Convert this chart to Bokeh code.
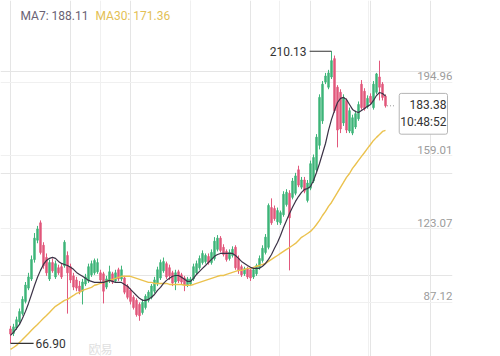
from bokeh.plotting import figure
from bokeh.models import Range1d, FixedTicker, Label, ColumnDataSource, Grid
from bokeh.embed import file_html
from bokeh.resources import INLINE

# ---- data ----
opens = [74.0, 71.8, 74.5, 77.5, 81.5, 87.5, 94.0, 98.5, 108.0, 117.5,
         126.0, 115.0, 109.0, 98.5, 106.5, 99.5, 104.0, 104.5, 105.0, 110.0,
         104.5, 100.0, 98.0, 95.0, 92.5, 96.0, 97.5, 100.5, 101.5, 102.0,
         101.5, 101.0, 94.5, 97.5, 101.0, 97.5, 103.0, 98.5, 99.0, 95.0,
         93.0, 89.5, 88.0, 86.0, 82.0, 84.5, 88.0, 89.5, 92.5, 96.0,
         99.0, 102.5, 106.0, 104.0, 101.5, 97.0, 102.0, 100.5, 99.0, 95.5,
         96.0, 98.5, 101.5, 104.0, 106.5, 107.0, 109.5, 106.5, 108.5, 113.0,
         118.5, 114.0, 112.0, 108.5, 110.0, 114.0, 108.5, 104.5, 101.0, 103.5,
         103.0, 99.5, 101.0, 104.0, 107.5, 111.5, 114.0, 133.5, 133.0, 126.5,
         126.0, 130.0, 135.0, 140.5, 138.5, 140.5, 152.0, 143.5, 147.0, 137.0,
         143.0, 146.5, 152.0, 164.0, 176.0, 195.0, 192.5, 197.5, 206.5, 192.5,
         190.0, 175.0, 186.0, 171.0, 170.0, 173.0, 177.0, 194.0, 190.5, 183.0,
         188.0, 182.5, 190.0, 197.5, 194.0, 188.0]
highs = [75.5, 76.5, 80.0, 84.0, 90.0, 97.0, 101.5, 110.0, 121.0, 124.5,
         127.2, 116.5, 111.0, 108.0, 108.5, 107.5, 105.5, 106.0, 117.5, 112.0,
         106.0, 101.5, 99.5, 97.5, 98.5, 101.0, 106.0, 107.5, 108.5, 108.5,
         103.0, 102.0, 100.0, 105.0, 102.0, 103.0, 104.0, 105.0, 100.0, 96.0,
         94.0, 90.5, 89.0, 87.0, 88.5, 91.0, 93.0, 96.0, 99.5, 104.5,
         108.0, 109.0, 107.0, 105.5, 102.5, 103.0, 103.0, 101.5, 100.0, 99.5,
         99.5, 106.0, 107.5, 110.0, 112.5, 111.0, 111.0, 113.0, 119.0, 120.0,
         119.5, 115.5, 113.0, 113.0, 114.5, 115.0, 110.0, 105.5, 104.5, 104.5,
         104.0, 104.0, 106.0, 110.0, 115.0, 120.5, 135.5, 138.0, 134.5, 133.5,
         132.0, 141.5, 142.5, 142.0, 148.0, 150.5, 154.0, 148.5, 148.5, 147.0,
         156.5, 159.5, 169.5, 189.0, 195.5, 199.5, 201.0, 210.13, 208.0, 193.5,
         191.5, 189.0, 187.0, 182.5, 179.0, 181.0, 185.5, 196.0, 192.0, 188.5,
         189.5, 195.5, 199.5, 205.5, 195.0, 189.0]
lows = [66.90, 70.5, 73.5, 76.5, 80.5, 86.5, 93.0, 97.5, 106.5, 116.0,
        110.5, 103.5, 100.0, 97.5, 101.5, 98.5, 100.5, 98.5, 104.0, 81.5,
        96.5, 93.0, 92.5, 91.0, 86.0, 95.0, 96.5, 99.5, 100.5, 101.0,
        97.0, 86.5, 93.5, 96.5, 96.0, 96.5, 97.5, 97.5, 91.0, 88.5,
        86.0, 83.5, 80.0, 78.0, 81.0, 83.5, 87.0, 88.5, 91.5, 95.0,
        98.0, 101.5, 98.5, 98.0, 95.0, 93.0, 96.5, 96.0, 92.5, 94.5,
        95.0, 97.5, 100.5, 103.0, 105.5, 106.0, 105.5, 105.5, 107.5, 112.0,
        111.5, 109.5, 107.0, 107.5, 109.0, 103.0, 101.0, 99.5, 100.0, 98.5,
        97.5, 98.5, 100.0, 103.0, 106.5, 110.5, 113.0, 125.0, 127.0, 125.0,
        125.0, 129.0, 134.0, 102.7, 137.5, 139.5, 143.5, 142.5, 140.5, 136.0,
        142.0, 145.5, 151.0, 162.0, 174.5, 194.0, 191.5, 196.5, 180.0, 163.0,
        170.0, 173.5, 170.0, 170.0, 169.0, 172.0, 176.0, 181.5, 181.0, 182.0,
        184.0, 181.5, 189.0, 186.0, 186.0, 182.5]
closes = [71.5, 75.0, 78.5, 82.5, 88.5, 95.5, 99.5, 108.0, 118.5, 123.0,
          111.5, 105.0, 101.5, 106.5, 102.5, 106.0, 101.5, 99.5, 116.5, 101.5,
          98.0, 94.5, 94.0, 92.5, 97.0, 99.5, 104.5, 106.0, 107.5, 106.5,
          98.0, 92.5, 98.5, 102.0, 97.0, 101.5, 98.5, 103.0, 92.0, 89.5,
          87.5, 84.5, 81.0, 80.5, 87.0, 90.0, 92.0, 95.0, 98.0, 103.0,
          106.5, 107.0, 99.5, 100.0, 96.5, 101.5, 97.5, 97.0, 95.5, 98.5,
          98.5, 104.5, 106.0, 108.5, 111.0, 110.0, 106.5, 111.5, 117.0, 118.5,
          112.5, 110.5, 108.0, 111.5, 113.0, 104.0, 102.5, 100.5, 103.5, 99.5,
          99.0, 103.0, 105.0, 108.5, 113.5, 119.0, 134.5, 126.0, 128.0, 132.0,
          131.0, 140.0, 141.0, 128.5, 146.5, 149.0, 144.5, 147.0, 141.5, 145.5,
          155.0, 158.0, 168.0, 187.5, 194.0, 198.0, 199.5, 205.5, 181.0, 171.5,
          172.0, 187.5, 171.5, 181.0, 177.5, 179.5, 184.0, 182.5, 182.0, 187.0,
          185.0, 194.0, 199.0, 192.5, 187.5, 183.38]
ma7 = [70.8, 72.3, 74.3, 76.2, 79.2, 82.6, 86.5, 90.9, 95.3, 99.3,
       102.7, 105.6, 107.6, 108.6, 109.1, 108.6, 107.1, 106.1, 105.6, 105.1,
       104.2, 103.2, 101.7, 100.7, 99.8, 98.8, 97.8, 97.3, 96.8, 96.8,
       96.8, 96.8, 97.3, 97.8, 97.3, 96.8, 96.8, 96.8, 95.8, 94.9,
       93.4, 91.9, 90.4, 89.0, 88.0, 88.0, 88.5, 89.5, 90.9, 92.9,
       94.4, 96.3, 97.8, 98.8, 99.8, 100.2, 100.2, 99.3, 98.3, 97.3,
       97.3, 98.8, 100.7, 102.2, 103.7, 105.1, 106.6, 108.1, 109.6, 110.5,
       111.0, 111.0, 111.0, 111.0, 111.0, 110.0, 108.6, 107.1, 106.1, 105.1,
       104.2, 103.7, 103.7, 103.7, 104.7, 106.1, 108.1, 110.5, 113.5, 116.4,
       119.8, 123.7, 127.2, 130.6, 133.6, 136.5, 138.9, 140.9, 142.4, 142.8,
       143.8, 146.8, 150.7, 155.1, 160.0, 164.9, 171.3, 176.7, 181.1, 185.0,
       187.0, 187.5, 186.5, 184.0, 181.6, 180.6, 180.1, 181.1, 182.1, 183.1,
       184.0, 186.0, 188.4, 189.9, 189.4, 188.11]
ma30 = [64.0, 64.9, 65.9, 67.4, 68.8, 70.3, 71.8, 73.3, 74.8, 76.2,
        77.7, 79.2, 80.6, 82.1, 83.6, 85.1, 86.0, 87.0, 88.0, 88.5,
        89.5, 90.4, 91.4, 91.9, 92.9, 93.4, 93.9, 94.4, 95.4, 95.8,
        96.3, 96.8, 97.3, 97.8, 98.3, 98.8, 99.3, 99.8, 99.8, 99.8,
        99.8, 99.3, 98.8, 98.3, 97.8, 97.3, 96.8, 96.8, 96.3, 96.3,
        96.3, 96.3, 96.3, 95.8, 95.8, 95.8, 95.8, 95.8, 95.4, 95.4,
        95.4, 95.8, 96.3, 96.8, 97.3, 97.8, 98.3, 98.8, 99.3, 99.8,
        100.2, 100.2, 100.7, 101.2, 101.7, 102.2, 102.7, 102.7, 103.2, 103.7,
        103.7, 104.2, 104.7, 105.1, 105.6, 106.1, 107.1, 108.1, 109.1, 110.0,
        111.0, 112.0, 113.0, 113.9, 114.9, 115.9, 117.4, 118.9, 119.8, 120.8,
        121.8, 123.3, 125.2, 127.2, 129.6, 131.6, 134.1, 136.0, 138.5, 140.9,
        143.4, 145.8, 148.3, 150.2, 152.7, 154.6, 156.6, 158.6, 160.5, 162.5,
        164.4, 166.4, 167.9, 169.3, 170.8, 171.36]
price_ticks = [194.96, 159.01, 123.07, 87.12]
price_tick_labels = ["194.96", "159.01", "123.07", "87.12"]
time_ticks = [30, 60, 89.7, 119.3]
last_time = "10:48:52"
watermark = "欧易"

GREEN = "#3fb57a"
RED = "#e2587c"
FONT = "Roboto"

N = len(closes)
idx = list(range(N))
colors = [GREEN if c >= o else RED for o, c in zip(opens, closes)]
tops = [max(o, c) for o, c in zip(opens, closes)]
bottoms = [min(o, c) for o, c in zip(opens, closes)]
src = ColumnDataSource(dict(x=idx, o=opens, h=highs, l=lows, c=closes,
                            top=tops, bottom=bottoms, color=colors))

X0, X1 = -3.33, 147.33
Y0, Y1 = 60.48, 235.0
p = figure(width=500, height=356, x_range=Range1d(X0, X1), y_range=Range1d(Y0, Y1),
           output_backend="svg", toolbar_location=None,
           x_axis_location=None, y_axis_location=None,
           min_border_left=0, min_border_top=0, min_border_bottom=0, min_border_right=48)
p.outline_line_color = None
p.background_fill_color = "white"
p.border_fill_color = "white"

p.add_layout(Grid(dimension=0, ticker=FixedTicker(ticks=time_ticks),
                  grid_line_color="#f0f0f0", grid_line_width=1))
p.add_layout(Grid(dimension=1, ticker=FixedTicker(ticks=price_ticks),
                  grid_line_color="#f0f0f0", grid_line_width=1))

p.segment(x0="x", y0="l", x1="x", y1="h", source=src, line_color="color", line_width=1)
p.vbar(x="x", width=0.62, top="top", bottom="bottom", source=src,
       fill_color="color", line_color="color", line_width=0.6)

p.line(idx, ma30, line_color="#ebc24e", line_width=1.4)
p.line(idx, ma7, line_color="#3b3246", line_width=1.2)

# price labels on the right
for pr, lab in zip(price_ticks, price_tick_labels):
    p.add_layout(Label(x=X1, y=pr, text=lab, text_align="right", text_baseline="bottom",
                       y_offset=2, text_font=FONT, text_font_size="11.5px",
                       text_color="#9c9c9c"))

# MA legends
p.add_layout(Label(x=X0, y=Y1, x_offset=20, y_offset=-15, text=f"MA7: {ma7[-1]:.2f}",
                   text_baseline="middle", text_font=FONT, text_font_size="12px",
                   text_color="#6a6274"))
p.add_layout(Label(x=X0, y=Y1, x_offset=95, y_offset=-15, text=f"MA30: {ma30[-1]:.2f}",
                   text_baseline="middle", text_font=FONT, text_font_size="12px",
                   text_color="#e3bf55"))

# high / low markers
imax = max(idx, key=lambda i: highs[i])
imin = min(idx, key=lambda i: lows[i])
p.segment(x0=[imax - 7.3], x1=[imax], y0=[highs[imax]], y1=[highs[imax]],
          line_color="#333333", line_width=1.2)
p.add_layout(Label(x=imax - 7.3, y=highs[imax], x_offset=-3, text=f"{highs[imax]:.2f}",
                   text_align="right", text_baseline="middle", text_font=FONT,
                   text_font_size="12px", text_color="#333333"))
p.segment(x0=[imin], x1=[imin + 7.7], y0=[lows[imin]], y1=[lows[imin]],
          line_color="#333333", line_width=1.2)
p.add_layout(Label(x=imin + 7.7, y=lows[imin], x_offset=2, text=f"{lows[imin]:.2f}",
                   text_align="left", text_baseline="middle", text_font=FONT,
                   text_font_size="12px", text_color="#333333"))

# last price box
p.segment(x0=[N - 1 + 0.5], x1=[128.3], y0=[closes[-1]], y1=[closes[-1]],
          line_color="#999999", line_width=1, line_dash="1 2")
p.add_layout(Label(x=X1, y=closes[-1], x_offset=-5, y_offset=-8,
                   text=f"{closes[-1]:.2f}\n{last_time}",
                   text_align="right", text_baseline="middle", text_font=FONT,
                   text_font_size="12px", text_color="#333333",
                   background_fill_color="white", border_line_color="#b5b5b5",
                   border_line_width=1, padding=(1, 5), border_radius=2))

# watermark
p.add_layout(Label(x=26, y=Y0, y_offset=17, text=watermark, text_baseline="top",
                   text_font="Noto Sans CJK SC", text_font_size="12px",
                   text_color="#e0e0e0"))

open("out.html", "w").write(file_html(p, INLINE))
